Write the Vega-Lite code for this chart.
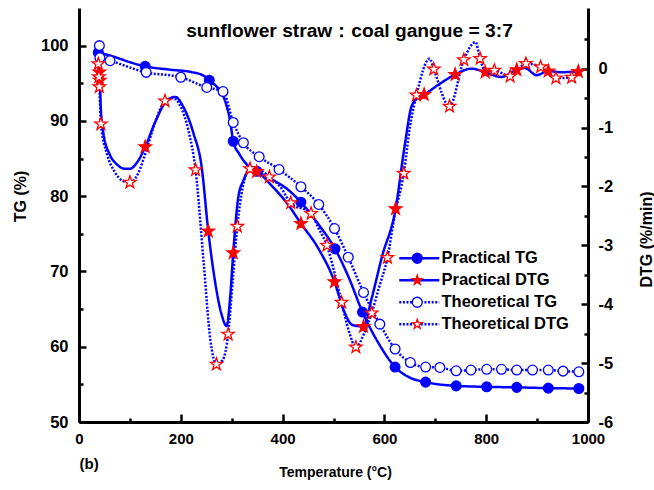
{
  "$schema": "https://vega.github.io/schema/vega-lite/v6.json",
  "width": 509,
  "height": 414,
  "autosize": "none",
  "padding": {"left": 79, "top": 8, "right": 66, "bottom": 68},
  "background": "white",
  "config": {
    "view": {"stroke": null},
    "font": "Liberation Sans",
    "axis": {"grid": false, "domainColor": "black", "tickColor": "black", "labelColor": "black", "titleColor": "black", "labelFontWeight": "bold", "titleFontWeight": "bold", "labelFont": "Liberation Sans", "titleFont": "Liberation Sans", "labelFlush": false, "labelOverlap": false}
  },
  "title": {"text": "sunflower straw：coal gangue = 3:7", "anchor": "middle", "fontSize": 19.2, "fontWeight": "bold", "font": "Liberation Sans", "color": "black", "offset": 0, "baseline": "alphabetic", "dy": 48, "dx": 16},
  "datasets": {
    "tgLine": [
      {"T": 38, "TG": 99.1, "series": "Practical TG"},
      {"T": 70, "TG": 98.5, "series": "Practical TG"},
      {"T": 100, "TG": 97.8, "series": "Practical TG"},
      {"T": 130, "TG": 97.25, "series": "Practical TG"},
      {"T": 180, "TG": 96.8, "series": "Practical TG"},
      {"T": 220, "TG": 96.5, "series": "Practical TG"},
      {"T": 245, "TG": 96.0, "series": "Practical TG"},
      {"T": 256, "TG": 95.4, "series": "Practical TG"},
      {"T": 270, "TG": 94.6, "series": "Practical TG"},
      {"T": 280, "TG": 93.8, "series": "Practical TG"},
      {"T": 290, "TG": 92.0, "series": "Practical TG"},
      {"T": 297, "TG": 90.0, "series": "Practical TG"},
      {"T": 303, "TG": 87.3, "series": "Practical TG"},
      {"T": 315, "TG": 85.6, "series": "Practical TG"},
      {"T": 330, "TG": 84.2, "series": "Practical TG"},
      {"T": 350, "TG": 83.3, "series": "Practical TG"},
      {"T": 380, "TG": 82.2, "series": "Practical TG"},
      {"T": 410, "TG": 80.9, "series": "Practical TG"},
      {"T": 436, "TG": 79.2, "series": "Practical TG"},
      {"T": 470, "TG": 76.3, "series": "Practical TG"},
      {"T": 503, "TG": 73.0, "series": "Practical TG"},
      {"T": 530, "TG": 69.2, "series": "Practical TG"},
      {"T": 557, "TG": 64.6, "series": "Practical TG"},
      {"T": 590, "TG": 60.3, "series": "Practical TG"},
      {"T": 621, "TG": 57.3, "series": "Practical TG"},
      {"T": 650, "TG": 55.9, "series": "Practical TG"},
      {"T": 681, "TG": 55.3, "series": "Practical TG"},
      {"T": 741, "TG": 54.8, "series": "Practical TG"},
      {"T": 801, "TG": 54.67, "series": "Practical TG"},
      {"T": 860, "TG": 54.6, "series": "Practical TG"},
      {"T": 922, "TG": 54.5, "series": "Practical TG"},
      {"T": 982, "TG": 54.45, "series": "Practical TG"},
      {"T": 40, "TG": 100.0, "series": "Theoretical TG"},
      {"T": 41, "TG": 98.4, "series": "Theoretical TG"},
      {"T": 61, "TG": 98.0, "series": "Theoretical TG"},
      {"T": 132, "TG": 96.45, "series": "Theoretical TG"},
      {"T": 200, "TG": 95.8, "series": "Theoretical TG"},
      {"T": 251, "TG": 94.45, "series": "Theoretical TG"},
      {"T": 283, "TG": 93.9, "series": "Theoretical TG"},
      {"T": 303, "TG": 89.8, "series": "Theoretical TG"},
      {"T": 323, "TG": 87.1, "series": "Theoretical TG"},
      {"T": 354, "TG": 85.25, "series": "Theoretical TG"},
      {"T": 393, "TG": 83.55, "series": "Theoretical TG"},
      {"T": 436, "TG": 81.25, "series": "Theoretical TG"},
      {"T": 471, "TG": 78.9, "series": "Theoretical TG"},
      {"T": 502, "TG": 75.7, "series": "Theoretical TG"},
      {"T": 529, "TG": 71.9, "series": "Theoretical TG"},
      {"T": 559, "TG": 67.2, "series": "Theoretical TG"},
      {"T": 591, "TG": 63.0, "series": "Theoretical TG"},
      {"T": 621, "TG": 59.7, "series": "Theoretical TG"},
      {"T": 651, "TG": 57.9, "series": "Theoretical TG"},
      {"T": 681, "TG": 57.3, "series": "Theoretical TG"},
      {"T": 709, "TG": 57.25, "series": "Theoretical TG"},
      {"T": 741, "TG": 56.8, "series": "Theoretical TG"},
      {"T": 770, "TG": 56.9, "series": "Theoretical TG"},
      {"T": 801, "TG": 57.0, "series": "Theoretical TG"},
      {"T": 830, "TG": 57.0, "series": "Theoretical TG"},
      {"T": 860, "TG": 56.9, "series": "Theoretical TG"},
      {"T": 891, "TG": 56.9, "series": "Theoretical TG"},
      {"T": 922, "TG": 56.9, "series": "Theoretical TG"},
      {"T": 951, "TG": 56.76, "series": "Theoretical TG"},
      {"T": 982, "TG": 56.67, "series": "Theoretical TG"}
    ],
    "tgMark": [
      {"T": 38, "TG": 99.1, "series": "Practical TG"},
      {"T": 130, "TG": 97.25, "series": "Practical TG"},
      {"T": 256, "TG": 95.4, "series": "Practical TG"},
      {"T": 303, "TG": 87.3, "series": "Practical TG"},
      {"T": 350, "TG": 83.3, "series": "Practical TG"},
      {"T": 436, "TG": 79.2, "series": "Practical TG"},
      {"T": 503, "TG": 73.0, "series": "Practical TG"},
      {"T": 557, "TG": 64.6, "series": "Practical TG"},
      {"T": 621, "TG": 57.3, "series": "Practical TG"},
      {"T": 681, "TG": 55.3, "series": "Practical TG"},
      {"T": 741, "TG": 54.8, "series": "Practical TG"},
      {"T": 801, "TG": 54.67, "series": "Practical TG"},
      {"T": 860, "TG": 54.6, "series": "Practical TG"},
      {"T": 922, "TG": 54.5, "series": "Practical TG"},
      {"T": 982, "TG": 54.45, "series": "Practical TG"},
      {"T": 40, "TG": 100.0, "series": "Theoretical TG"},
      {"T": 41, "TG": 98.4, "series": "Theoretical TG"},
      {"T": 61, "TG": 98.0, "series": "Theoretical TG"},
      {"T": 132, "TG": 96.45, "series": "Theoretical TG"},
      {"T": 200, "TG": 95.8, "series": "Theoretical TG"},
      {"T": 251, "TG": 94.45, "series": "Theoretical TG"},
      {"T": 283, "TG": 93.9, "series": "Theoretical TG"},
      {"T": 303, "TG": 89.8, "series": "Theoretical TG"},
      {"T": 323, "TG": 87.1, "series": "Theoretical TG"},
      {"T": 354, "TG": 85.25, "series": "Theoretical TG"},
      {"T": 393, "TG": 83.55, "series": "Theoretical TG"},
      {"T": 436, "TG": 81.25, "series": "Theoretical TG"},
      {"T": 471, "TG": 78.9, "series": "Theoretical TG"},
      {"T": 502, "TG": 75.7, "series": "Theoretical TG"},
      {"T": 529, "TG": 71.9, "series": "Theoretical TG"},
      {"T": 559, "TG": 67.2, "series": "Theoretical TG"},
      {"T": 591, "TG": 63.0, "series": "Theoretical TG"},
      {"T": 621, "TG": 59.7, "series": "Theoretical TG"},
      {"T": 651, "TG": 57.9, "series": "Theoretical TG"},
      {"T": 681, "TG": 57.3, "series": "Theoretical TG"},
      {"T": 709, "TG": 57.25, "series": "Theoretical TG"},
      {"T": 741, "TG": 56.8, "series": "Theoretical TG"},
      {"T": 770, "TG": 56.9, "series": "Theoretical TG"},
      {"T": 801, "TG": 57.0, "series": "Theoretical TG"},
      {"T": 830, "TG": 57.0, "series": "Theoretical TG"},
      {"T": 860, "TG": 56.9, "series": "Theoretical TG"},
      {"T": 891, "TG": 56.9, "series": "Theoretical TG"},
      {"T": 922, "TG": 56.9, "series": "Theoretical TG"},
      {"T": 951, "TG": 56.76, "series": "Theoretical TG"},
      {"T": 982, "TG": 56.67, "series": "Theoretical TG"}
    ],
    "dtgLine": [
      {"T": 37, "DTG": 0.12, "series": "Practical DTG"},
      {"T": 40, "DTG": -0.06, "series": "Practical DTG"},
      {"T": 41, "DTG": -0.2, "series": "Practical DTG"},
      {"T": 43, "DTG": -0.7, "series": "Practical DTG"},
      {"T": 48, "DTG": -1.1, "series": "Practical DTG"},
      {"T": 60, "DTG": -1.45, "series": "Practical DTG"},
      {"T": 75, "DTG": -1.63, "series": "Practical DTG"},
      {"T": 90, "DTG": -1.7, "series": "Practical DTG"},
      {"T": 100, "DTG": -1.7, "series": "Practical DTG"},
      {"T": 115, "DTG": -1.58, "series": "Practical DTG"},
      {"T": 130, "DTG": -1.33, "series": "Practical DTG"},
      {"T": 150, "DTG": -0.9, "series": "Practical DTG"},
      {"T": 170, "DTG": -0.57, "series": "Practical DTG"},
      {"T": 189, "DTG": -0.48, "series": "Practical DTG"},
      {"T": 205, "DTG": -0.65, "series": "Practical DTG"},
      {"T": 225, "DTG": -1.1, "series": "Practical DTG"},
      {"T": 241, "DTG": -1.67, "series": "Practical DTG"},
      {"T": 254, "DTG": -2.76, "series": "Practical DTG"},
      {"T": 267, "DTG": -3.6, "series": "Practical DTG"},
      {"T": 280, "DTG": -4.17, "series": "Practical DTG"},
      {"T": 290, "DTG": -4.37, "series": "Practical DTG"},
      {"T": 297, "DTG": -3.88, "series": "Practical DTG"},
      {"T": 303, "DTG": -3.13, "series": "Practical DTG"},
      {"T": 313, "DTG": -2.18, "series": "Practical DTG"},
      {"T": 323, "DTG": -1.9, "series": "Practical DTG"},
      {"T": 336, "DTG": -1.72, "series": "Practical DTG"},
      {"T": 349, "DTG": -1.75, "series": "Practical DTG"},
      {"T": 380, "DTG": -2.0, "series": "Practical DTG"},
      {"T": 410, "DTG": -2.3, "series": "Practical DTG"},
      {"T": 436, "DTG": -2.63, "series": "Practical DTG"},
      {"T": 470, "DTG": -3.05, "series": "Practical DTG"},
      {"T": 502, "DTG": -3.62, "series": "Practical DTG"},
      {"T": 520, "DTG": -4.1, "series": "Practical DTG"},
      {"T": 537, "DTG": -4.35, "series": "Practical DTG"},
      {"T": 559, "DTG": -4.38, "series": "Practical DTG"},
      {"T": 575, "DTG": -3.9, "series": "Practical DTG"},
      {"T": 595, "DTG": -3.2, "series": "Practical DTG"},
      {"T": 622, "DTG": -2.38, "series": "Practical DTG"},
      {"T": 640, "DTG": -1.3, "series": "Practical DTG"},
      {"T": 653, "DTG": -0.65, "series": "Practical DTG"},
      {"T": 665, "DTG": -0.5, "series": "Practical DTG"},
      {"T": 678, "DTG": -0.44, "series": "Practical DTG"},
      {"T": 710, "DTG": -0.25, "series": "Practical DTG"},
      {"T": 739, "DTG": -0.1, "series": "Practical DTG"},
      {"T": 771, "DTG": 0.0, "series": "Practical DTG"},
      {"T": 798, "DTG": -0.06, "series": "Practical DTG"},
      {"T": 830, "DTG": -0.14, "series": "Practical DTG"},
      {"T": 860, "DTG": -0.02, "series": "Practical DTG"},
      {"T": 876, "DTG": 0.01, "series": "Practical DTG"},
      {"T": 899, "DTG": -0.11, "series": "Practical DTG"},
      {"T": 922, "DTG": -0.04, "series": "Practical DTG"},
      {"T": 945, "DTG": -0.06, "series": "Practical DTG"},
      {"T": 981, "DTG": -0.05, "series": "Practical DTG"},
      {"T": 38, "DTG": 0.08, "series": "Theoretical DTG"},
      {"T": 39, "DTG": -0.14, "series": "Theoretical DTG"},
      {"T": 40, "DTG": -0.31, "series": "Theoretical DTG"},
      {"T": 43, "DTG": -0.94, "series": "Theoretical DTG"},
      {"T": 55, "DTG": -1.45, "series": "Theoretical DTG"},
      {"T": 70, "DTG": -1.75, "series": "Theoretical DTG"},
      {"T": 85, "DTG": -1.9, "series": "Theoretical DTG"},
      {"T": 100, "DTG": -1.93, "series": "Theoretical DTG"},
      {"T": 115, "DTG": -1.8, "series": "Theoretical DTG"},
      {"T": 130, "DTG": -1.45, "series": "Theoretical DTG"},
      {"T": 150, "DTG": -0.9, "series": "Theoretical DTG"},
      {"T": 169, "DTG": -0.55, "series": "Theoretical DTG"},
      {"T": 185, "DTG": -0.5, "series": "Theoretical DTG"},
      {"T": 200, "DTG": -0.65, "series": "Theoretical DTG"},
      {"T": 215, "DTG": -1.05, "series": "Theoretical DTG"},
      {"T": 229, "DTG": -1.72, "series": "Theoretical DTG"},
      {"T": 245, "DTG": -3.3, "series": "Theoretical DTG"},
      {"T": 258, "DTG": -4.6, "series": "Theoretical DTG"},
      {"T": 270, "DTG": -5.02, "series": "Theoretical DTG"},
      {"T": 282, "DTG": -4.95, "series": "Theoretical DTG"},
      {"T": 293, "DTG": -4.51, "series": "Theoretical DTG"},
      {"T": 302, "DTG": -3.6, "series": "Theoretical DTG"},
      {"T": 311, "DTG": -2.68, "series": "Theoretical DTG"},
      {"T": 322, "DTG": -2.0, "series": "Theoretical DTG"},
      {"T": 336, "DTG": -1.7, "series": "Theoretical DTG"},
      {"T": 355, "DTG": -1.72, "series": "Theoretical DTG"},
      {"T": 374, "DTG": -1.84, "series": "Theoretical DTG"},
      {"T": 395, "DTG": -2.0, "series": "Theoretical DTG"},
      {"T": 416, "DTG": -2.28, "series": "Theoretical DTG"},
      {"T": 456, "DTG": -2.46, "series": "Theoretical DTG"},
      {"T": 470, "DTG": -2.7, "series": "Theoretical DTG"},
      {"T": 487, "DTG": -3.0, "series": "Theoretical DTG"},
      {"T": 500, "DTG": -3.4, "series": "Theoretical DTG"},
      {"T": 516, "DTG": -3.97, "series": "Theoretical DTG"},
      {"T": 530, "DTG": -4.45, "series": "Theoretical DTG"},
      {"T": 544, "DTG": -4.73, "series": "Theoretical DTG"},
      {"T": 560, "DTG": -4.5, "series": "Theoretical DTG"},
      {"T": 575, "DTG": -4.15, "series": "Theoretical DTG"},
      {"T": 590, "DTG": -3.7, "series": "Theoretical DTG"},
      {"T": 606, "DTG": -3.21, "series": "Theoretical DTG"},
      {"T": 620, "DTG": -2.5, "series": "Theoretical DTG"},
      {"T": 638, "DTG": -1.78, "series": "Theoretical DTG"},
      {"T": 650, "DTG": -1.0, "series": "Theoretical DTG"},
      {"T": 663, "DTG": -0.45, "series": "Theoretical DTG"},
      {"T": 689, "DTG": 0.17, "series": "Theoretical DTG"},
      {"T": 697, "DTG": -0.01, "series": "Theoretical DTG"},
      {"T": 728, "DTG": -0.64, "series": "Theoretical DTG"},
      {"T": 756, "DTG": 0.15, "series": "Theoretical DTG"},
      {"T": 779, "DTG": 0.45, "series": "Theoretical DTG"},
      {"T": 788, "DTG": 0.17, "series": "Theoretical DTG"},
      {"T": 799, "DTG": -0.06, "series": "Theoretical DTG"},
      {"T": 816, "DTG": -0.03, "series": "Theoretical DTG"},
      {"T": 847, "DTG": -0.13, "series": "Theoretical DTG"},
      {"T": 878, "DTG": 0.085, "series": "Theoretical DTG"},
      {"T": 907, "DTG": 0.03, "series": "Theoretical DTG"},
      {"T": 937, "DTG": -0.16, "series": "Theoretical DTG"},
      {"T": 968, "DTG": -0.15, "series": "Theoretical DTG"},
      {"T": 981, "DTG": -0.05, "series": "Theoretical DTG"}
    ],
    "dtgMark": [
      {"T": 40, "DTG": -0.06, "series": "Practical DTG"},
      {"T": 41, "DTG": -0.2, "series": "Practical DTG"},
      {"T": 130, "DTG": -1.33, "series": "Practical DTG"},
      {"T": 254, "DTG": -2.76, "series": "Practical DTG"},
      {"T": 303, "DTG": -3.13, "series": "Practical DTG"},
      {"T": 349, "DTG": -1.75, "series": "Practical DTG"},
      {"T": 436, "DTG": -2.63, "series": "Practical DTG"},
      {"T": 502, "DTG": -3.62, "series": "Practical DTG"},
      {"T": 559, "DTG": -4.38, "series": "Practical DTG"},
      {"T": 622, "DTG": -2.38, "series": "Practical DTG"},
      {"T": 678, "DTG": -0.44, "series": "Practical DTG"},
      {"T": 739, "DTG": -0.1, "series": "Practical DTG"},
      {"T": 798, "DTG": -0.06, "series": "Practical DTG"},
      {"T": 860, "DTG": -0.02, "series": "Practical DTG"},
      {"T": 922, "DTG": -0.04, "series": "Practical DTG"},
      {"T": 981, "DTG": -0.05, "series": "Practical DTG"},
      {"T": 38, "DTG": 0.08, "series": "Theoretical DTG"},
      {"T": 39, "DTG": -0.14, "series": "Theoretical DTG"},
      {"T": 40, "DTG": -0.31, "series": "Theoretical DTG"},
      {"T": 43, "DTG": -0.94, "series": "Theoretical DTG"},
      {"T": 100, "DTG": -1.93, "series": "Theoretical DTG"},
      {"T": 169, "DTG": -0.55, "series": "Theoretical DTG"},
      {"T": 229, "DTG": -1.72, "series": "Theoretical DTG"},
      {"T": 270, "DTG": -5.02, "series": "Theoretical DTG"},
      {"T": 293, "DTG": -4.51, "series": "Theoretical DTG"},
      {"T": 311, "DTG": -2.68, "series": "Theoretical DTG"},
      {"T": 336, "DTG": -1.7, "series": "Theoretical DTG"},
      {"T": 374, "DTG": -1.84, "series": "Theoretical DTG"},
      {"T": 416, "DTG": -2.28, "series": "Theoretical DTG"},
      {"T": 456, "DTG": -2.46, "series": "Theoretical DTG"},
      {"T": 487, "DTG": -3.0, "series": "Theoretical DTG"},
      {"T": 516, "DTG": -3.97, "series": "Theoretical DTG"},
      {"T": 544, "DTG": -4.73, "series": "Theoretical DTG"},
      {"T": 575, "DTG": -4.15, "series": "Theoretical DTG"},
      {"T": 606, "DTG": -3.21, "series": "Theoretical DTG"},
      {"T": 638, "DTG": -1.78, "series": "Theoretical DTG"},
      {"T": 663, "DTG": -0.45, "series": "Theoretical DTG"},
      {"T": 697, "DTG": -0.01, "series": "Theoretical DTG"},
      {"T": 728, "DTG": -0.64, "series": "Theoretical DTG"},
      {"T": 756, "DTG": 0.15, "series": "Theoretical DTG"},
      {"T": 788, "DTG": 0.17, "series": "Theoretical DTG"},
      {"T": 816, "DTG": -0.03, "series": "Theoretical DTG"},
      {"T": 847, "DTG": -0.13, "series": "Theoretical DTG"},
      {"T": 878, "DTG": 0.085, "series": "Theoretical DTG"},
      {"T": 907, "DTG": 0.03, "series": "Theoretical DTG"},
      {"T": 937, "DTG": -0.16, "series": "Theoretical DTG"},
      {"T": 968, "DTG": -0.15, "series": "Theoretical DTG"}
    ]
  },
  "layer": [
    {
      "layer": [
        {
          "data": {"name": "tgLine"},
          "mark": {"type": "line", "color": "#0000ff", "interpolate": "monotone"},
          "encoding": {
            "x": {"field": "T", "type": "quantitative", "scale": {"domain": [0, 1000], "nice": false, "zero": false},
              "axis": {"orient": "bottom", "values": [0, 100, 200, 300, 400, 500, 600, 700, 800, 900, 1000], "labelExpr": "datum.value % 200 === 0 ? '' + datum.value : ''", "tickSize": {"condition": {"test": "datum.value % 200 === 0", "value": -8}, "value": -4}, "tickWidth": 2.5, "domainWidth": 3, "labelFontSize": 15, "labelPadding": 17, "title": "Temperature (°C)", "titleFontSize": 14, "titleX": 256, "titleY": 50, "titleBaseline": "middle", "titleAlign": "center"}},
            "y": {"field": "TG", "type": "quantitative", "scale": {"domain": [50, 105], "nice": false, "zero": false},
              "axis": {"orient": "left", "values": [50, 55, 60, 65, 70, 75, 80, 85, 90, 95, 100], "labelExpr": "datum.value % 10 === 0 ? '' + datum.value : ''", "tickSize": {"condition": {"test": "datum.value % 10 === 0", "value": -7}, "value": -4}, "tickWidth": 2.5, "domainWidth": 3, "labelFontSize": 16.5, "labelPadding": 18, "title": "TG (%)", "titleFontSize": 16, "titleX": -59, "titleY": 188, "titleAngle": 270, "titleAlign": "center", "titleBaseline": "middle"}},
            "strokeDash": {"field": "series", "type": "nominal",
              "scale": {"domain": ["Practical TG", "Practical DTG", "Theoretical TG", "Theoretical DTG"], "range": [[1, 0], [1, 0], [2, 1.6], [2, 1.6]]},
              "legend": {"orient": "none", "legendX": 332, "legendY": 242, "title": null, "padding": 0, "symbolType": "M-4,0L4,0", "symbolSize": 100, "symbolStrokeColor": "#0000ff", "labelFontSize": 16.5, "labelFontWeight": "bold", "labelFont": "Liberation Sans", "labelColor": "black", "labelOffset": 14, "rowPadding": 5}},
            "strokeWidth": {"field": "series", "type": "nominal",
              "scale": {"domain": ["Practical TG", "Practical DTG", "Theoretical TG", "Theoretical DTG"], "range": [2.5, 2.5, 1.6, 1.6]}}
          }
        },
        {
          "data": {"name": "dtgLine"},
          "mark": {"type": "line", "color": "#0000ff", "interpolate": "monotone"},
          "encoding": {
            "x": {"field": "T", "type": "quantitative", "scale": {"domain": [0, 1000], "nice": false, "zero": false}},
            "y": {"field": "DTG", "type": "quantitative", "scale": {"domain": [-6, 1.03], "nice": false, "zero": false},
              "axis": {"orient": "right", "values": [-6, -5.5, -5, -4.5, -4, -3.5, -3, -2.5, -2, -1.5, -1, -0.5, 0, 0.5], "labelExpr": "datum.value % 1 === 0 ? '' + datum.value : ''", "tickSize": {"condition": {"test": "datum.value % 1 === 0", "value": -7}, "value": -4}, "tickWidth": 2.5, "domainWidth": 3, "labelFontSize": 16.5, "labelPadding": 17, "title": "DTG (%/min)", "titleFontSize": 16, "titleX": 58, "titleY": 231, "titleAngle": 270, "titleAlign": "center", "titleBaseline": "middle"}},
            "strokeDash": {"field": "series", "type": "nominal", "scale": {"domain": ["Practical TG", "Practical DTG", "Theoretical TG", "Theoretical DTG"], "range": [[1, 0], [1, 0], [2, 1.6], [2, 1.6]]}},
            "strokeWidth": {"field": "series", "type": "nominal", "scale": {"domain": ["Practical TG", "Practical DTG", "Theoretical TG", "Theoretical DTG"], "range": [2.5, 2.5, 1.6, 1.6]}}
          }
        }
      ],
      "resolve": {"scale": {"y": "independent"}}
    },
    {
      "layer": [
        {
          "data": {"name": "tgMark"},
          "mark": {"type": "point", "size": 95, "strokeWidth": 1.3, "opacity": 1},
          "encoding": {
            "x": {"field": "T", "type": "quantitative", "scale": {"domain": [0, 1000], "nice": false, "zero": false},
              "axis": {"orient": "bottom", "title": "(b)", "labels": false, "ticks": false, "domain": false, "titleX": 0, "titleY": 41, "titleAlign": "left", "titleBaseline": "middle", "titleFontSize": 15}},
            "y": {"field": "TG", "type": "quantitative", "scale": {"domain": [50, 105], "nice": false, "zero": false}, "axis": null},
            "shape": {"field": "series", "type": "nominal",
              "scale": {"domain": ["Practical TG", "Practical DTG", "Theoretical TG", "Theoretical DTG"], "range": ["circle", "M0,-1L0.235,-0.324L0.951,-0.309L0.38,0.124L0.588,0.809L0,0.4L-0.588,0.809L-0.38,0.124L-0.951,-0.309L-0.235,-0.324Z", "circle", "M0,-1L0.235,-0.324L0.951,-0.309L0.38,0.124L0.588,0.809L0,0.4L-0.588,0.809L-0.38,0.124L-0.951,-0.309L-0.235,-0.324Z"]},
              "legend": {"orient": "none", "legendX": 330, "legendY": 242, "title": null, "padding": 0, "symbolSize": 100, "symbolStrokeWidth": 1.3, "labelFontSize": 16.5, "labelFontWeight": "bold", "labelOpacity": 0, "labelExpr": "''", "labelOffset": 4, "rowPadding": 5,
                "symbolOpacity": 1,
                "encode": {"symbols": {"update": {"size": {"signal": "indexof(datum.value, 'DTG') >= 0 ? 170 : 100"}}}}}},
            "fill": {"field": "series", "type": "nominal", "scale": {"domain": ["Practical TG", "Practical DTG", "Theoretical TG", "Theoretical DTG"], "range": ["#0000ff", "#ff0000", "#ffffff", "#ffffff"]}},
            "stroke": {"field": "series", "type": "nominal", "scale": {"domain": ["Practical TG", "Practical DTG", "Theoretical TG", "Theoretical DTG"], "range": ["#0000ff", "#ff0000", "#0000ff", "#ff0000"]}}
          }
        },
        {
          "data": {"name": "dtgMark"},
          "mark": {"type": "point", "size": 170, "strokeWidth": 1.3, "opacity": 1},
          "encoding": {
            "x": {"field": "T", "type": "quantitative", "scale": {"domain": [0, 1000], "nice": false, "zero": false}},
            "y": {"field": "DTG", "type": "quantitative", "scale": {"domain": [-6, 1.03], "nice": false, "zero": false}, "axis": null},
            "shape": {"field": "series", "type": "nominal", "scale": {"domain": ["Practical TG", "Practical DTG", "Theoretical TG", "Theoretical DTG"], "range": ["circle", "M0,-1L0.235,-0.324L0.951,-0.309L0.38,0.124L0.588,0.809L0,0.4L-0.588,0.809L-0.38,0.124L-0.951,-0.309L-0.235,-0.324Z", "circle", "M0,-1L0.235,-0.324L0.951,-0.309L0.38,0.124L0.588,0.809L0,0.4L-0.588,0.809L-0.38,0.124L-0.951,-0.309L-0.235,-0.324Z"]}},
            "fill": {"field": "series", "type": "nominal", "scale": {"domain": ["Practical TG", "Practical DTG", "Theoretical TG", "Theoretical DTG"], "range": ["#0000ff", "#ff0000", "#ffffff", "#ffffff"]}},
            "stroke": {"field": "series", "type": "nominal", "scale": {"domain": ["Practical TG", "Practical DTG", "Theoretical TG", "Theoretical DTG"], "range": ["#0000ff", "#ff0000", "#0000ff", "#ff0000"]}}
          }
        }
      ],
      "resolve": {"scale": {"y": "independent"}}
    }
  ],
  "resolve": {"scale": {"y": "independent", "strokeDash": "independent", "strokeWidth": "independent", "shape": "independent", "fill": "independent", "stroke": "independent"}, "axis": {"x": "independent"}}
}
